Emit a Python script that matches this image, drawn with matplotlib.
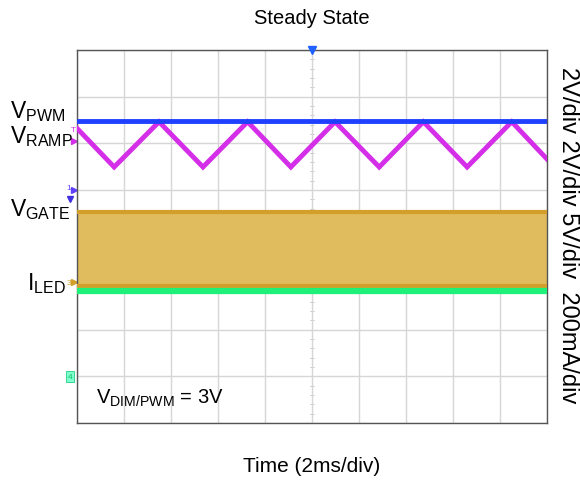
import matplotlib.pyplot as plt
import numpy as np

plt.rcParams['font.family'] = ['Liberation Sans', 'DejaVu Sans']
plt.rcParams['mathtext.fontset'] = 'custom'
plt.rcParams['mathtext.rm'] = 'Liberation Sans'

# scope screen in divisions: x 0..10, y -4..4
pwm_x = [0, 10]
pwm_y = [2.48, 2.48]

ramp_x = [0, 0.79, 1.745, 2.68, 3.63, 4.55, 5.49, 6.43, 7.37, 8.30, 9.25, 10]
ramp_y = [2.32, 1.49, 2.46, 1.49, 2.46, 1.49, 2.46, 1.49, 2.46, 1.49, 2.46, 1.66]

gate_x = [0, 10]
gate_high = [0.53, 0.53]
gate_low = [-1.06, -1.06]

iled_x = [0, 10]
iled_y = [-1.16, -1.16]

fig = plt.figure(figsize=(5.8, 4.81), dpi=100)
ax = fig.add_axes([0.1328, 0.1185, 0.8103, 0.7755])

ax.set_xlim(0, 10)
ax.set_ylim(-4, 4)
ax.set_xticks(np.arange(0, 11, 1))
ax.set_yticks(np.arange(-4, 5, 1))
ax.tick_params(length=0, labelleft=False, labelbottom=False)
ax.grid(True, color='#d6d6d6', linewidth=1)
for s in ax.spines.values():
    s.set_color('#555555')
    s.set_linewidth(1)

# minor ticks on the center vertical line
ty = np.arange(-4, 4.01, 0.2)
ax.plot([5] * len(ty), ty, linestyle='none', marker='_', markersize=3,
        color='#c4c4c4', markeredgewidth=0.7, zorder=1)

# traces
ax.fill_between(gate_x, gate_low, gate_high, color='#e1bc5e', zorder=2, linewidth=0)
ax.plot(gate_x, gate_high, color='#d2a02a', linewidth=3, zorder=3)
ax.plot(gate_x, gate_low, color='#d2a02a', linewidth=3, zorder=3)
ax.plot(iled_x, iled_y, color='#1ff07a', linewidth=4.5, zorder=3)
ax.plot(ramp_x, ramp_y, color='#d42ee8', linewidth=3.5, zorder=4, solid_joinstyle='miter')
ax.plot(pwm_x, pwm_y, color='#2040ff', linewidth=3.5, zorder=5)

# trigger + channel markers
ax.plot([5], [4], marker='v', color='#2060ff', markersize=6, clip_on=False, zorder=6)
ax.plot([-0.06], [2.05], marker='>', color='#d42ee8', markersize=4, clip_on=False)
ax.text(-0.07, 2.3, 'T', color='#d42ee8', fontsize=6, ha='center', va='center')
ax.plot([-0.06], [1.0], marker='>', color='#6040ff', markersize=4, clip_on=False)
ax.plot([-0.14], [0.8], marker='v', color='#4030e0', markersize=4, clip_on=False)
ax.text(-0.18, 1.05, '1', color='#6040ff', fontsize=6, ha='center', va='center')
ax.plot([-0.06], [-0.98], marker='>', color='#d2a02a', markersize=4, clip_on=False)
ax.text(-0.18, -0.98, '3', color='#d2a02a', fontsize=6, ha='center', va='center')
ax.text(-0.15, -3.0, '4', color='#10c060', fontsize=6, ha='center', va='center',
        bbox=dict(boxstyle='square,pad=0.2', fc='#80ffd0', ec='#20d080', lw=0.6))

# labels
fs = 16.5
fig.text(0.017, 1 - 112 / 481, r'$\mathregular{V_{PWM}}$', fontsize=fs, va='center')
fig.text(0.017, 1 - 137 / 481, r'$\mathregular{V_{RAMP}}$', fontsize=fs, va='center')
fig.text(0.017, 1 - 210 / 481, r'$\mathregular{V_{GATE}}$', fontsize=fs, va='center')
fig.text(0.047, 1 - 284 / 481, r'$\mathregular{I_{LED}}$', fontsize=fs, va='center')
ax.text(0.4, -3.45, r'$\mathregular{V_{DIM/PWM}}$ = 3V', fontsize=14.5, va='center')

fig.text(568 / 580, 1 - 235 / 481, '2V/div 2V/div 5V/div  200mA/div', fontsize=17,
         rotation=270, ha='center', va='center')

fig.text(312 / 580, 1 - 19 / 481, 'Steady State', fontsize=14.5, ha='center', va='center')
fig.text(312 / 580, 1 - 466 / 481, 'Time (2ms/div)', fontsize=15, ha='center', va='center')

fig.savefig('out.png', dpi=100)
